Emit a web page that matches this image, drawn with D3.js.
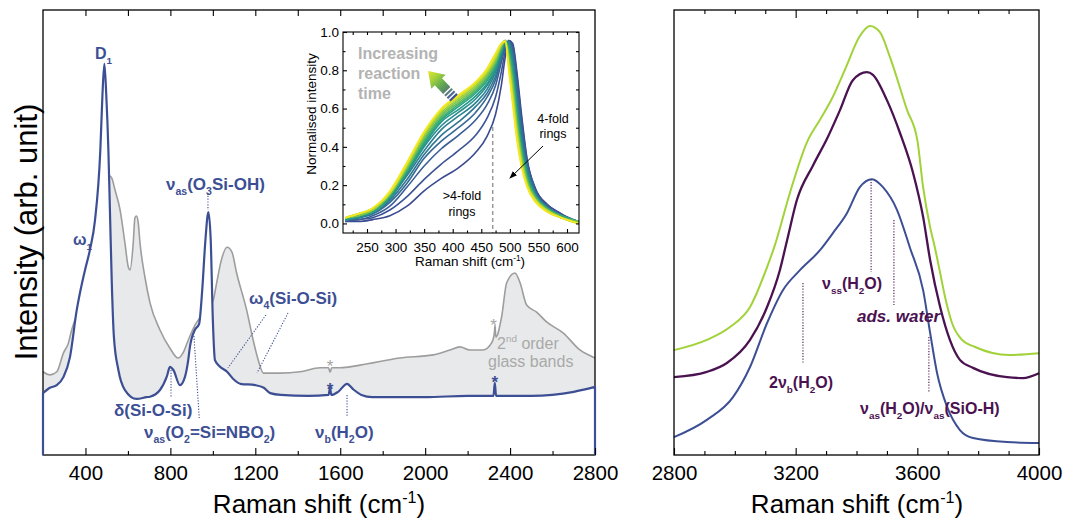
<!DOCTYPE html>
<html><head><meta charset="utf-8">
<script src="https://cdn.jsdelivr.net/npm/d3@7"></script>
<style>body{margin:0;background:#fff}svg{display:block}text{font-family:"Liberation Sans",Arial,Helvetica,sans-serif}</style>
</head><body>
<svg id="c" width="1065" height="523"></svg>
<script>
// ---------------- DATA ----------------
// Left panel: fresh glass (grey) vs. altered gel (blue), Raman shift in cm-1, intensity arb. units (0-100)
const blueShift = [200,233,265,296,327,359,374,398,421,445,470,480,489,498,508,516,524,534,555,586,641,688,704,751,783,798,814,845,869,884,892,915,935,950,965,979,990,1000,1010,1030,1067,1100,1130,1200,1240,1270,1320,1450,1545,1552,1558,1590,1632,1660,1700,1750,2000,2200,2322,2328,2334,2500,2700,2800];
const blueInt   = [13.9,15.1,15.7,17.5,22.0,32.6,36.4,41.6,46.1,52.8,68.5,80.9,87.9,80.9,68.5,53.5,38.7,26.5,19.1,14.6,12.6,13.0,13.1,14.6,17.6,19.8,19.1,15.7,17.6,21.3,24.3,28.1,29.4,37.1,48.3,54.6,48.3,30.3,21.3,20.0,18.7,16.9,16.0,15.7,15.1,13.9,13.5,13.3,13.5,15.1,13.5,14.2,16.0,14.8,13.5,13.0,13.0,13.3,13.3,16.2,13.3,13.3,14.2,15.3];
const grayShift = [200,233,265,296,320,335,350,380,420,460,490,508,516,524,539,563,586,602,610,625,633,640,648,657,680,704,751,798,836,859,884,916,950,980,1002,1018,1040,1067,1090,1112,1159,1190,1214,1238,1316,1410,1505,1545,1552,1560,1599,1693,1881,2037,2117,2164,2211,2272,2313,2326,2329,2333,2360,2384,2423,2447,2478,2525,2572,2651,2729,2800];
const grayInt   = [18.7,18.0,18.7,22.9,25.2,28.1,30.3,33.7,39.8,48.3,56.2,61.8,62.7,62.2,59.6,55.1,47.6,42.2,41.6,47.6,53.3,53.7,52.4,47.6,40.0,34.2,28.1,24.0,21.8,22.9,25.8,29.2,31.5,33.0,34.8,38.7,43.8,46.7,45.6,40.9,32.6,25.8,21.3,18.4,18.4,18.7,19.6,19.6,18.6,19.6,19.6,20.2,21.8,22.5,23.6,24.3,23.6,23.6,25.2,27.4,29.2,26.5,31.0,38.7,40.9,38.7,33.7,32.1,29.9,27.4,23.6,21.8];

// Right panel: OH stretching region
const greenShift  = [2800,2908,2984,3050,3106,3132,3181,3237,3280,3316,3366,3409,3444,3477,3510,3566,3600,3619,3642,3658,3675,3691,3714,3747,3790,3902,4000];
const greenInt    = [23.4,25.7,28.6,33.1,42.1,47.1,58.8,70.2,75.3,79.6,87.2,93.9,96.4,95.0,89.4,77.5,70.7,60.1,51.1,46.4,40.8,35.4,29.5,25.7,24.1,22.3,22.7];
const purpleShift = [2800,2908,2974,3050,3106,3148,3172,3204,3257,3303,3346,3388,3434,3454,3500,3543,3586,3619,3642,3675,3707,3740,3783,3895,3947,4000];
const purpleInt   = [17.3,18.5,20.5,25.7,33.1,41.4,48.2,57.2,65.0,71.0,77.5,84.2,86.0,85.4,79.7,72.3,63.3,53.4,43.7,33.1,25.7,21.2,19.4,17.3,17.1,18.2];
const blueOHShift = [2800,2908,2994,3050,3106,3158,3214,3280,3323,3369,3411,3451,3487,3533,3576,3619,3642,3665,3698,3740,3783,3895,4000];
const blueOHInt   = [3.8,7.7,12.8,19.6,29.5,36.9,41.4,45.9,49.8,54.3,60.1,61.9,60.1,55.0,46.4,36.9,27.3,18.2,10.6,5.4,3.6,2.7,2.5];

// Inset: normalised ring-band region, one curve per reaction time (early -> late)
const insetShift = [212,235,260,290,320,350,380,410,440,460,475,485,492,498,505,512,520,530,545,565,590,620];
const insetCurves = [
  [0.01,0.01,0.02,0.04,0.09,0.17,0.235,0.29,0.37,0.455,0.57,0.72,0.87,0.955,0.94,0.80,0.58,0.34,0.18,0.10,0.05,0.00],
  [0.01,0.02,0.03,0.07,0.14,0.23,0.31,0.38,0.46,0.55,0.66,0.79,0.90,0.955,0.93,0.78,0.56,0.33,0.18,0.10,0.05,0.01],
  [0.02,0.02,0.04,0.09,0.19,0.30,0.39,0.46,0.54,0.62,0.72,0.84,0.92,0.955,0.91,0.75,0.53,0.32,0.17,0.09,0.04,0.01],
  [0.02,0.03,0.05,0.11,0.21,0.34,0.43,0.50,0.58,0.66,0.75,0.86,0.93,0.95,0.89,0.71,0.50,0.30,0.16,0.09,0.04,0.01],
  [0.02,0.03,0.05,0.12,0.23,0.36,0.46,0.53,0.61,0.68,0.77,0.87,0.94,0.95,0.87,0.68,0.47,0.29,0.16,0.08,0.04,0.01],
  [0.02,0.03,0.06,0.13,0.25,0.38,0.49,0.56,0.63,0.70,0.79,0.88,0.94,0.94,0.85,0.65,0.45,0.28,0.15,0.08,0.04,0.01],
  [0.02,0.03,0.06,0.13,0.26,0.40,0.51,0.58,0.65,0.72,0.80,0.89,0.95,0.93,0.83,0.63,0.43,0.27,0.15,0.08,0.04,0.01],
  [0.02,0.04,0.06,0.14,0.27,0.41,0.53,0.595,0.665,0.73,0.81,0.90,0.95,0.92,0.81,0.61,0.42,0.26,0.14,0.08,0.04,0.01],
  [0.02,0.04,0.06,0.14,0.27,0.42,0.54,0.61,0.68,0.745,0.82,0.905,0.955,0.91,0.79,0.59,0.40,0.25,0.14,0.08,0.04,0.01],
  [0.03,0.04,0.07,0.15,0.28,0.43,0.55,0.62,0.69,0.755,0.83,0.91,0.955,0.90,0.77,0.57,0.39,0.24,0.14,0.08,0.04,0.01],
  [0.03,0.04,0.07,0.15,0.29,0.44,0.56,0.63,0.70,0.765,0.84,0.92,0.955,0.88,0.74,0.54,0.37,0.23,0.13,0.07,0.03,0.01],
  [0.03,0.04,0.07,0.15,0.29,0.45,0.57,0.64,0.71,0.775,0.85,0.925,0.955,0.87,0.72,0.52,0.36,0.22,0.13,0.07,0.03,0.01],
  [0.03,0.05,0.07,0.16,0.30,0.46,0.58,0.65,0.72,0.785,0.86,0.93,0.955,0.85,0.69,0.50,0.34,0.21,0.12,0.07,0.03,0.00],
  [0.03,0.05,0.08,0.16,0.31,0.47,0.59,0.66,0.73,0.795,0.87,0.935,0.955,0.83,0.66,0.48,0.32,0.20,0.12,0.07,0.03,0.00],
  [0.03,0.05,0.08,0.16,0.31,0.475,0.595,0.665,0.735,0.80,0.88,0.94,0.95,0.82,0.64,0.46,0.31,0.20,0.12,0.06,0.03,0.00],
  [0.03,0.05,0.08,0.17,0.32,0.48,0.60,0.67,0.74,0.81,0.89,0.94,0.95,0.80,0.62,0.44,0.30,0.19,0.11,0.06,0.03,0.00]
];
const insetColors = ['#3b4b91','#3c5495','#3a5f96','#366a95','#317693','#2c8190','#288c8d','#25978a','#2aa282','#3cad72','#5bb95f','#7cc44c','#9fcf3b','#c1da2e','#dfe226','#f4e822'];

// Tick values
const leftMajorTicks  = [400,800,1200,1600,2000,2400,2800];
const leftMinorTicks  = [600,1000,1400,1800,2200,2600];
const leftTopTicks    = [400,600,800,1000,1200,1400,1600,1800,2000,2200,2400,2600];
const rightMajorTicks = [2800,3200,3600,4000];
const rightMinorTicks = [2900,3000,3100,3300,3400,3500,3700,3800,3900];
const insetXTicks = [250,300,350,400,450,500,550,600];
const insetXMinor = [225,275,325,375,425,475,525,575];
const insetYTicks = [0.0,0.2,0.4,0.6,0.8,1.0];
const insetYMinor = [0.1,0.3,0.5,0.7,0.9];

// ---------------- DRAWING ----------------
const FONT = '"Liberation Sans",Arial,Helvetica,sans-serif';
const svg = d3.select('#c');
const BLUE = '#3d4f94', GRAY = '#9d9d9d', FILL = '#e8e9ea', PURPLE = '#4a1250', GREEN = '#a2d23a';

const xL = d3.scaleLinear([200, 2800], [43, 595]);
const yL = d3.scaleLinear([0, 100], [455, 10]);
const xR = d3.scaleLinear([2800, 4000], [674, 1039]);
const yR = d3.scaleLinear([0, 100], [454, 10]);
const xI = d3.scaleLinear([208, 621], [343, 579]);
const yI = d3.scaleLinear([-0.05, 1.0], [233, 32]);

function rich(g, x, y, parts, o) {
  const t = g.append('text').attr('x', x).attr('y', y)
    .attr('font-size', o.size).attr('fill', o.fill)
    .attr('font-weight', o.weight || 'normal')
    .attr('font-style', o.style || 'normal');
  if (o.anchor) t.attr('text-anchor', o.anchor);
  let cur = 0;
  parts.forEach(p => {
    const s = Array.isArray(p) ? p[0] : p;
    const kind = Array.isArray(p) ? p[1] : null;
    let target = 0, fs = o.size;
    if (kind === 'sub') { target = o.size * 0.3; fs = o.size * 0.62; }
    if (kind === 'sup') { target = -o.size * 0.42; fs = o.size * 0.62; }
    t.append('tspan').attr('dy', target - cur).attr('font-size', fs).text(s);
    cur = target;
  });
  return t;
}
function styleAxis(g, size) {
  g.select('.domain').remove();
  g.attr('font-family', FONT).attr('font-size', size);
  g.selectAll('text').attr('fill', '#000');
  g.selectAll('line').attr('stroke', '#000').attr('stroke-width', 1.1);
}
function dotted(g, x1, y1, x2, y2, col) {
  g.append('line').attr('x1', x1).attr('y1', y1).attr('x2', x2).attr('y2', y2)
    .attr('stroke', col).attr('stroke-width', 1.1).attr('stroke-dasharray', '1.2,1.6');
}
function ramanTitle(x, y, size) {
  svg.append('text').attr('x', x).attr('y', y).attr('text-anchor', 'middle')
    .attr('font-size', size).attr('fill', '#000')
    .call(t => {
      t.append('tspan').text('Raman shift (cm');
      t.append('tspan').attr('dy', -size * 0.38).attr('font-size', size * 0.62).text('-1');
      t.append('tspan').attr('dy', size * 0.38).text(')');
    });
}

// ===== LEFT PANEL =====
const L = svg.append('g');
const grayPts = d3.zip(grayShift, grayInt);
const bluePts = d3.zip(blueShift, blueInt);
const curve = d3.curveMonotoneX;
L.append('path').datum(grayPts)
  .attr('d', d3.area().x(d => xL(d[0])).y0(yL(0)).y1(d => yL(d[1])).curve(curve))
  .attr('fill', FILL);
L.append('path').datum(grayPts)
  .attr('d', d3.line().x(d => xL(d[0])).y(d => yL(d[1])).curve(curve))
  .attr('fill', 'none').attr('stroke', GRAY).attr('stroke-width', 1.6);
L.append('path').datum(bluePts)
  .attr('d', d3.area().x(d => xL(d[0])).y0(yL(0)).y1(d => yL(d[1])).curve(curve))
  .attr('fill', '#fff');
L.append('rect').attr('x', 43).attr('y', 10).attr('width', 552).attr('height', 445)
  .attr('fill', 'none').attr('stroke', '#000').attr('stroke-width', 1.3);
const blueLine = d3.line().x(d => xL(d[0])).y(d => yL(d[1])).curve(curve)(bluePts);
L.append('path')
  .attr('d', 'M' + xL(200) + ',' + yL(0) + 'L' + blueLine.slice(1) + 'L' + xL(2800) + ',' + yL(0))
  .attr('fill', 'none').attr('stroke', BLUE).attr('stroke-width', 2.2).attr('stroke-linejoin', 'round');

const axLB = L.append('g').attr('transform', 'translate(0,455)')
  .call(d3.axisBottom(xL).tickValues(leftMajorTicks).tickSizeInner(-7).tickSizeOuter(0).tickPadding(10).tickFormat(d3.format('d')));
styleAxis(axLB, 20.5);
const axLBm = L.append('g').attr('transform', 'translate(0,455)')
  .call(d3.axisBottom(xL).tickValues(leftMinorTicks).tickSizeInner(-4).tickSizeOuter(0).tickFormat(''));
styleAxis(axLBm, 20);
const axLT = L.append('g').attr('transform', 'translate(0,10)')
  .call(d3.axisTop(xL).tickValues(leftTopTicks).tickSizeInner(-6).tickSizeOuter(0).tickFormat(''));
styleAxis(axLT, 20);

ramanTitle(319, 513, 26);
svg.append('text').attr('transform', 'translate(37,232) rotate(-90)').attr('text-anchor', 'middle')
  .attr('font-size', 31).attr('fill', '#000').text('Intensity (arb. unit)');

dotted(L, xL(977), 193, xL(977), yL(54.6) - 2, BLUE);
dotted(L, xL(803), yL(19.1), xL(803), 397, BLUE);
dotted(L, xL(911), 336, xL(936), 418, BLUE);
dotted(L, xL(1632), yL(13.5), xL(1632), 417, BLUE);
dotted(L, xL(1250), 315, xL(1071), 368, BLUE);
dotted(L, xL(1354), 313, xL(1208), 373, BLUE);

const bl = {size: 17, fill: BLUE, weight: 'bold'};
rich(L, 95, 59, ['D', ['1', 'sub']], {size: 16, fill: BLUE, weight: 'bold'});
rich(L, 73, 245, ['ω', ['1', 'sub']], {size: 16, fill: BLUE, weight: 'bold'});
rich(L, 166, 190, ['ν', ['as', 'sub'], '(O', ['3', 'sub'], 'Si-OH)'], bl);
rich(L, 249, 304, ['ω', ['4', 'sub'], '(Si-O-Si)'], bl);
rich(L, 114, 416, ['δ(Si-O-Si)'], bl);
rich(L, 144, 438, ['ν', ['as', 'sub'], '(O', ['2', 'sub'], '=Si=NBO', ['2', 'sub'], ')'], bl);
rich(L, 315, 438, ['ν', ['b', 'sub'], '(H', ['2', 'sub'], 'O)'], bl);
L.append('text').attr('x', xL(1552)).attr('y', 395).attr('text-anchor', 'middle').attr('font-size', 17).attr('font-weight', 'bold').attr('fill', BLUE).text('*');
L.append('text').attr('x', xL(1552)).attr('y', 372).attr('text-anchor', 'middle').attr('font-size', 17).attr('fill', '#a5a5a5').text('*');
L.append('text').attr('x', xL(2328)).attr('y', 388).attr('text-anchor', 'middle').attr('font-size', 17).attr('font-weight', 'bold').attr('fill', BLUE).text('*');
L.append('text').attr('x', xL(2322)).attr('y', 331).attr('text-anchor', 'middle').attr('font-size', 17).attr('fill', '#a5a5a5').text('*');
rich(L, 497, 349, ['2', ['nd', 'sup'], ' order'], {size: 16, fill: '#a9a9a9'});
rich(L, 488, 367, ['glass bands'], {size: 16, fill: '#a9a9a9'});

// ===== INSET =====
const I = svg.append('g');
I.append('rect').attr('x', 343).attr('y', 32).attr('width', 236).attr('height', 201).attr('fill', '#fff');
const defs = svg.append('defs');
defs.append('clipPath').attr('id', 'clipI').append('rect').attr('x', 343).attr('y', 32).attr('width', 236).attr('height', 201);
const IC = I.append('g').attr('clip-path', 'url(#clipI)');
insetCurves.forEach((vals, k) => {
  IC.append('path').datum(d3.zip(insetShift, vals))
    .attr('d', d3.line().x(d => xI(d[0])).y(d => yI(d[1])).curve(d3.curveMonotoneX))
    .attr('fill', 'none').attr('stroke', insetColors[k]).attr('stroke-width', 1.6);
});
I.append('line').attr('x1', xI(470)).attr('x2', xI(470)).attr('y1', 127).attr('y2', 233)
  .attr('stroke', '#9a9a9a').attr('stroke-width', 1.5).attr('stroke-dasharray', '4,3');
I.append('rect').attr('x', 343).attr('y', 32).attr('width', 236).attr('height', 201)
  .attr('fill', 'none').attr('stroke', '#000').attr('stroke-width', 1.1);
const axIB = I.append('g').attr('transform', 'translate(0,233)')
  .call(d3.axisBottom(xI).tickValues(insetXTicks).tickSizeInner(-4).tickSizeOuter(0).tickPadding(9).tickFormat(d3.format('d')));
styleAxis(axIB, 13.5);
const axIBm = I.append('g').attr('transform', 'translate(0,233)')
  .call(d3.axisBottom(xI).tickValues(insetXMinor).tickSizeInner(-2.5).tickSizeOuter(0).tickFormat(''));
styleAxis(axIBm, 13.5);
const axIT = I.append('g').attr('transform', 'translate(0,32)')
  .call(d3.axisTop(xI).tickValues(insetXTicks.concat(insetXMinor)).tickSizeInner(-3).tickSizeOuter(0).tickFormat(''));
styleAxis(axIT, 13.5);
const axIL = I.append('g').attr('transform', 'translate(343,0)')
  .call(d3.axisLeft(yI).tickValues(insetYTicks).tickSizeInner(-4).tickSizeOuter(0).tickPadding(4).tickFormat(d3.format('.1f')));
styleAxis(axIL, 13.5);
const axILm = I.append('g').attr('transform', 'translate(343,0)')
  .call(d3.axisLeft(yI).tickValues(insetYMinor).tickSizeInner(-2.5).tickSizeOuter(0).tickFormat(''));
styleAxis(axILm, 13.5);
const axIR = I.append('g').attr('transform', 'translate(579,0)')
  .call(d3.axisRight(yI).tickValues(insetYTicks.concat(insetYMinor)).tickSizeInner(-3).tickSizeOuter(0).tickFormat(''));
styleAxis(axIR, 13.5);
ramanTitle(470, 266, 13.5);
I.append('text').attr('transform', 'translate(316,114) rotate(-90)').attr('text-anchor', 'middle')
  .attr('font-size', 13.5).attr('fill', '#000').text('Normalised intensity');
[['Increasing', 59], ['reaction', 79], ['time', 99]].forEach(([s, y]) =>
  I.append('text').attr('x', 358).attr('y', y).attr('font-size', 16).attr('font-weight', 'bold').attr('fill', '#b3b3b3').text(s));
const ag = defs.append('linearGradient').attr('id', 'arrG').attr('gradientUnits', 'userSpaceOnUse')
  .attr('x1', 0).attr('y1', 0).attr('x2', 27).attr('y2', 0);
[[0, '#e6e62a'], [0.35, '#a8d23a'], [0.7, '#62ad50'], [1, '#58806c']].forEach(([o, c]) =>
  ag.append('stop').attr('offset', o).attr('stop-color', c));
const ang = Math.atan2(102 - 72, 457 - 428) * 180 / Math.PI;
const AR = I.append('g').attr('transform', `translate(428,71) rotate(${ang})`);
AR.append('path').attr('d', 'M0,0 L15,-10 L15,-5 L27,-5 L27,5 L15,5 L15,10 Z').attr('fill', 'url(#arrG)');
[[28.5, '#5d7f82'], [32, '#4c6791'], [35.5, '#3e5294']].forEach(([x, c]) =>
  AR.append('rect').attr('x', x).attr('y', -5).attr('width', 2.2).attr('height', 10).attr('fill', c));
const mk = defs.append('marker').attr('id', 'mk').attr('markerUnits', 'userSpaceOnUse')
  .attr('markerWidth', 8).attr('markerHeight', 6).attr('refX', 7).attr('refY', 3).attr('orient', 'auto');
mk.append('path').attr('d', 'M0,0 L8,3 L0,6 Z').attr('fill', '#000');
I.append('line').attr('x1', 543).attr('y1', 146).attr('x2', 510).attr('y2', 178)
  .attr('stroke', '#000').attr('stroke-width', 1).attr('marker-end', 'url(#mk)');
I.append('text').attr('x', 553).attr('y', 123).attr('text-anchor', 'middle').attr('font-size', 12.5).text('4-fold');
I.append('text').attr('x', 553).attr('y', 138).attr('text-anchor', 'middle').attr('font-size', 12.5).text('rings');
I.append('text').attr('x', 462).attr('y', 200).attr('text-anchor', 'middle').attr('font-size', 12.5).text('>4-fold');
I.append('text').attr('x', 462).attr('y', 216).attr('text-anchor', 'middle').attr('font-size', 12.5).text('rings');

// ===== RIGHT PANEL =====
const R = svg.append('g');
const lineR = d3.line().x(d => xR(d[0])).y(d => yR(d[1])).curve(d3.curveMonotoneX);
R.append('path').datum(d3.zip(greenShift, greenInt)).attr('d', lineR).attr('fill', 'none').attr('stroke', GREEN).attr('stroke-width', 2);
R.append('path').datum(d3.zip(purpleShift, purpleInt)).attr('d', lineR).attr('fill', 'none').attr('stroke', PURPLE).attr('stroke-width', 2.3);
R.append('path').datum(d3.zip(blueOHShift, blueOHInt)).attr('d', lineR).attr('fill', 'none').attr('stroke', BLUE).attr('stroke-width', 2);
R.append('rect').attr('x', 674).attr('y', 10).attr('width', 365).attr('height', 445)
  .attr('fill', 'none').attr('stroke', '#000').attr('stroke-width', 1.3);
const axRB = R.append('g').attr('transform', 'translate(0,455)')
  .call(d3.axisBottom(xR).tickValues(rightMajorTicks).tickSizeInner(-7).tickSizeOuter(0).tickPadding(10).tickFormat(d3.format('d')));
styleAxis(axRB, 20.5);
const axRBm = R.append('g').attr('transform', 'translate(0,455)')
  .call(d3.axisBottom(xR).tickValues(rightMinorTicks).tickSizeInner(-4).tickSizeOuter(0).tickFormat(''));
styleAxis(axRBm, 20);
const axRT = R.append('g').attr('transform', 'translate(0,10)')
  .call(d3.axisTop(xR).tickValues(rightMajorTicks.slice(1, 3)).tickSizeInner(-8).tickSizeOuter(0).tickFormat(''));
styleAxis(axRT, 20);
const axRTm = R.append('g').attr('transform', 'translate(0,10)')
  .call(d3.axisTop(xR).tickValues(rightMinorTicks).tickSizeInner(-4).tickSizeOuter(0).tickFormat(''));
styleAxis(axRTm, 20);
ramanTitle(857, 513, 26);

dotted(R, xR(3448), yR(61.9), xR(3448), 272, PURPLE);
dotted(R, xR(3523), 220, xR(3523), 305, PURPLE);
dotted(R, xR(3224), 283, xR(3224), 363, PURPLE);
dotted(R, xR(3638), 337, xR(3638), 393, PURPLE);
const pl = {size: 16, fill: PURPLE, weight: 'bold'};
rich(R, 822, 289, ['ν', ['ss', 'sub'], '(H', ['2', 'sub'], 'O)'], pl);
rich(R, 857, 322, ['ads. water'], {size: 17, fill: PURPLE, weight: 'bold', style: 'italic'});
rich(R, 769, 388, ['2ν', ['b', 'sub'], '(H', ['2', 'sub'], 'O)'], pl);
rich(R, 860, 414, ['ν', ['as', 'sub'], '(H', ['2', 'sub'], 'O)/ν', ['as', 'sub'], '(SiO-H)'], pl);
</script>
</body></html>
